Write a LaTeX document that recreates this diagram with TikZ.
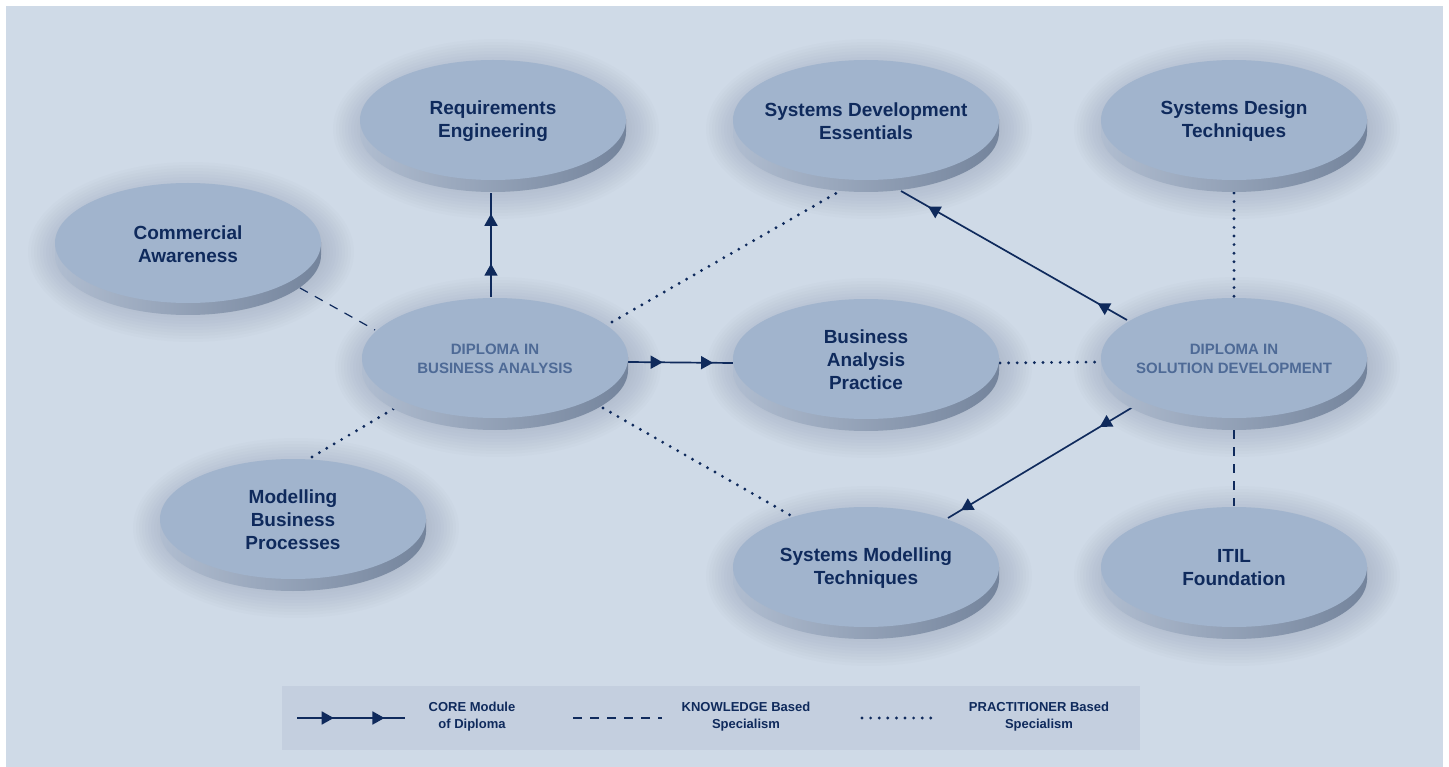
\documentclass[tikz,border=0pt]{standalone}
\usepackage{fontspec}
\setmainfont{Liberation Sans}
\usetikzlibrary{calc,decorations.markings,arrows.meta}
\definecolor{bgc}{RGB}{207,218,231}
\definecolor{legbg}{RGB}{196,207,223}
\definecolor{face}{RGB}{161,180,205}
\definecolor{sidel}{RGB}{176,189,208}
\definecolor{sider}{RGB}{116,132,156}
\definecolor{navy}{RGB}{15,42,92}
\definecolor{diptext}{RGB}{78,106,150}
\definecolor{shd}{RGB}{60,72,95}
\pgfdeclarelayer{bglayer}
\pgfdeclarelayer{halolayer}
\pgfdeclarelayer{lineslayer}
\pgfsetlayers{bglayer,halolayer,lineslayer,main}
\tikzset{
  disktext/.style={align=center, text=navy, inner sep=0pt, font=\fontsize{19}{23}\selectfont\bfseries},
  diptxt/.style={align=center, text=diptext, inner sep=0pt, font=\fontsize{15}{19.5}\selectfont\bfseries},
  legtxt/.style={align=center, text=navy, inner sep=0pt, font=\fontsize{13}{17}\selectfont\bfseries},
  coreline/.style 2 args={draw=navy, line width=1.7pt, postaction={decorate},
     decoration={markings,
       mark=at position #1 with {\arrow{Triangle[length=12pt,width=13pt]}},
       mark=at position #2 with {\arrow{Triangle[length=12pt,width=13pt]}}}},
  knowline/.style={draw=navy, line width=1.2pt, dash pattern=on 9pt off 8pt},
  pracline/.style={draw=navy, line width=3.2pt, line cap=round, dash pattern=on 0pt off 8.6pt},
  halostep/.style={fill=shd, opacity=0.017},
}
\newcommand\mydisk[5]{%
  \begin{pgfonlayer}{halolayer}
    \foreach \k in {0,...,10}{
      \fill[halostep] (#2+3,#3+9) ellipse ({133+3*\k} and {60+3*\k});
    }
  \end{pgfonlayer}
  \path[left color=sidel,right color=sider] (#2,#3+12) ellipse (133 and 60);
  \path[left color=sidel,right color=sider] (#2-133,#3) rectangle (#2+133,#3+12);
  \fill[face] (#2,#3) ellipse (133 and 60);
  \node[#4] (#1) at (#2,#3+1) {#5};
}
\begin{document}
\begin{tikzpicture}[x=1pt,y=-1pt]
\useasboundingbox (0,0) rectangle (1449,767);
\begin{pgfonlayer}{bglayer}
\fill[white] (0,0) rectangle (1449,767);
\fill[bgc] (6,6) rectangle (1443,767);
\end{pgfonlayer}

\mydisk{re}{493}{120}{disktext}{Requirements\\Engineering}
\mydisk{sde}{866}{120}{disktext}{Systems Development\\Essentials}
\mydisk{sdt}{1234}{120}{disktext}{Systems Design\\Techniques}
\mydisk{ca}{188}{243}{disktext}{Commercial\\Awareness}
\mydisk{dba}{495}{358}{diptxt}{DIPLOMA IN\\BUSINESS ANALYSIS}
\mydisk{bap}{866}{359}{disktext}{Business\\Analysis\\Practice}
\mydisk{dsd}{1234}{358}{diptxt}{DIPLOMA IN\\SOLUTION DEVELOPMENT}
\mydisk{mbp}{293}{519}{disktext}{Modelling\\Business\\Processes}
\mydisk{smt}{866}{567}{disktext}{Systems Modelling\\Techniques}
\mydisk{itil}{1234}{567}{disktext}{ITIL\\Foundation}

\begin{pgfonlayer}{lineslayer}
\draw[coreline={0.32}{0.8}] ($(dba)+(-4,-62)$) -- ($(re)+(-2,72)$);
\draw[coreline={0.33}{0.81}] ($(dba)+(133,3)$) -- ($(bap)+(-133,3)$);
\draw[coreline={0.13}{0.88}] ($(dsd)+(-107,-39)$) -- ($(sde)+(35,70)$);
\draw[coreline={0.18}{0.93}] ($(dsd)+(-101,48)$) -- ($(smt)+(82,-50)$);
\draw[knowline] ($(ca)+(112,44)$) -- ($(dba)+(-120,-29)$);
\draw[pracline] ($(mbp)+(19,-63)$) -- ($(dba)+(-95,46)$);
\draw[pracline] ($(dba)+(117,-37)$) -- ($(sde)+(-26,70)$);
\draw[pracline] ($(dba)+(108,49)$) -- ($(smt)+(-76,-53)$);
\draw[pracline] ($(bap)+(134,3)$) -- ($(dsd)+(-134,3)$);
\draw[pracline] ($(sdt)+(0,72)$) -- ($(dsd)+(0,-62)$);
\draw[knowline] ($(dsd)+(0,71)$) -- ($(itil)+(0,-62)$);
\end{pgfonlayer}

% legend
\node[fill=legbg, minimum width=858pt, minimum height=64pt, inner sep=0pt] (legend) at (711,718) {};
\coordinate (la1) at (297,718);
\coordinate (la2) at (405,718);
\draw[coreline={0.34}{0.81}] (la1) -- (la2);
\node[legtxt] (legcore) at (472,717) {CORE Module\\of Diploma};
\coordinate (lb1) at (573,718);
\coordinate (lb2) at (662,718);
\draw[knowline] (lb1) -- (lb2);
\node[legtxt] (legknow) at (746,717) {KNOWLEDGE Based\\Specialism};
\coordinate (lc1) at (862,718);
\coordinate (lc2) at (938,718);
\draw[pracline] (lc1) -- (lc2);
\node[legtxt] (legprac) at (1039,717) {PRACTITIONER Based\\Specialism};
\end{tikzpicture}
\end{document}
